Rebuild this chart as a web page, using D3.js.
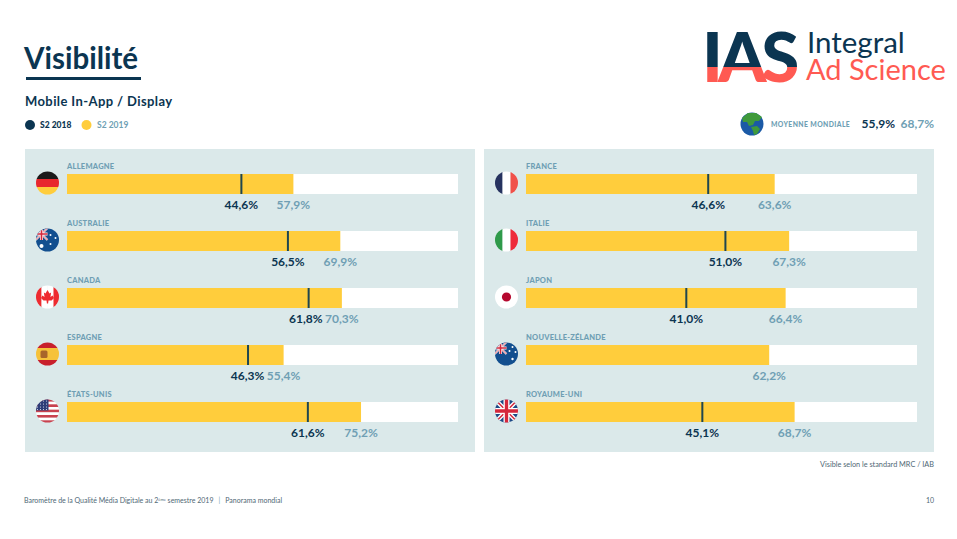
<!DOCTYPE html>
<html lang="fr">
<head>
<meta charset="utf-8">
<title>Visibilité</title>
<script src="https://cdn.jsdelivr.net/npm/d3@7"></script>
<style>
  html, body { margin: 0; padding: 0; background: #fff; }
  svg { display: block; font-family: Lato, "Open Sans", sans-serif; }
</style>
</head>
<body>
<svg id="chart" width="957" height="539"></svg>
<script>
// Values
const leftCountries = ["ALLEMAGNE", "AUSTRALIE", "CANADA", "ESPAGNE", "ÉTATS-UNIS"];
const leftS22018 = [44.6, 56.5, 61.8, 46.3, 61.6];
const leftS22019 = [57.9, 69.9, 70.3, 55.4, 75.2];
const leftFlags = ["de", "au", "ca", "es", "us"];

const rightCountries = ["FRANCE", "ITALIE", "JAPON", "NOUVELLE-ZÉLANDE", "ROYAUME-UNI"];
const rightS22018 = [46.6, 51.0, 41.0, null, 45.1];
const rightS22019 = [63.6, 67.3, 66.4, 62.2, 68.7];
const rightFlags = ["fr", "it", "jp", "nz", "gb"];

const worldAverage = [55.9, 68.7];
const seriesNames = ["S2 2018", "S2 2019"];

const navy = "#0b3551", yellow = "#ffcd3c", panelBg = "#dbe9ea", teal = "#6f9fb4", coral = "#ff5a52";
const fmt = v => v.toFixed(1).replace(".", ",") + "%";

const svg = d3.select("#chart");
const defs = svg.append("defs");

// Title block
svg.append("text").attr("x", 24).attr("y", 69).attr("font-size", 29.5).attr("font-weight", 700)
  .attr("fill", navy).text("Visibilité");
svg.append("rect").attr("x", 26).attr("y", 77).attr("width", 115).attr("height", 3).attr("fill", navy);
svg.append("text").attr("x", 25).attr("y", 106).attr("font-size", 13).attr("font-weight", 700)
  .attr("fill", navy).attr("letter-spacing", 0.4).text("Mobile In-App / Display");

// Legend
svg.append("circle").attr("cx", 30).attr("cy", 125).attr("r", 5).attr("fill", navy);
svg.append("text").attr("x", 40).attr("y", 128).attr("font-size", 8.5).attr("font-weight", 900)
  .attr("fill", navy).text(seriesNames[0]);
svg.append("circle").attr("cx", 86.5).attr("cy", 125).attr("r", 5).attr("fill", yellow);
svg.append("text").attr("x", 97).attr("y", 128).attr("font-size", 8.5).attr("font-weight", 700)
  .attr("fill", teal).text(seriesNames[1]);

// Logo: one text, two colours through a hard-stop gradient
const logoGrad = defs.append("linearGradient").attr("id", "logoSplit")
  .attr("gradientUnits", "userSpaceOnUse").attr("x1", 0).attr("x2", 0).attr("y1", 32).attr("y2", 82);
logoGrad.append("stop").attr("offset", 0.7).attr("stop-color", navy);
logoGrad.append("stop").attr("offset", 0.7).attr("stop-color", coral);
svg.append("text").attr("x", 702).attr("y", 82).attr("font-size", 69).attr("font-weight", 900)
  .attr("letter-spacing", -5).attr("fill", "url(#logoSplit)").text("IAS");
svg.append("text").attr("x", 807).attr("y", 53).attr("font-size", 29.5)
  .attr("fill", navy).text("Integral");
svg.append("text").attr("x", 806).attr("y", 80).attr("font-size", 29)
  .attr("fill", coral).text("Ad Science");

// World average
const globe = svg.append("g").attr("transform", "translate(752,124)");
globe.append("circle").attr("r", 11.5).attr("fill", "#1b5aa6");
globe.append("path").attr("fill", "#3f9a3c")
  .attr("d", "M-10,-6 L-4,-11 L4,-11 L10,-7 L7,-3 L3,-3 L1,1 L-3,2 L-5,-2 L-9,-2 Z M-1,3 L5,2 L8,5 L5,10 L2,11 L1,7 Z");
svg.append("text").attr("x", 771).attr("y", 127).attr("font-size", 6.8).attr("font-weight", 900)
  .attr("letter-spacing", 0.4).attr("fill", teal).text("MOYENNE MONDIALE");
svg.append("text").attr("x", 895).attr("y", 128).attr("text-anchor", "end").attr("font-size", 12)
  .attr("font-weight", 700).attr("fill", navy).text(fmt(worldAverage[0]));
svg.append("text").attr("x", 934).attr("y", 128).attr("text-anchor", "end").attr("font-size", 12)
  .attr("font-weight", 700).attr("fill", teal).text(fmt(worldAverage[1]));

// Small flags, 24 px box centred on the origin
function stripes(g, colors, vertical) {
  const n = colors.length, s = 24 / n;
  colors.forEach((c, i) => {
    g.append("rect")
      .attr("x", vertical ? -12 + i * s : -12).attr("y", vertical ? -12 : -12 + i * s)
      .attr("width", vertical ? s + 0.2 : 24).attr("height", vertical ? 24 : s + 0.2)
      .attr("fill", c);
  });
}
function union(g, size) {
  // size = half width of the jack, centred on the origin of g
  const s = size;
  g.append("rect").attr("x", -s).attr("y", -s).attr("width", 2 * s).attr("height", 2 * s).attr("fill", "#1d4a86");
  g.append("path").attr("d", `M${-s},${-s}L${s},${s}M${s},${-s}L${-s},${s}`).attr("stroke", "#fff").attr("stroke-width", s * 0.34);
  g.append("path").attr("d", `M${-s},${-s}L${s},${s}M${s},${-s}L${-s},${s}`).attr("stroke", "#d5283c").attr("stroke-width", s * 0.13);
  g.append("path").attr("d", `M0,${-s}V${s}M${-s},0H${s}`).attr("stroke", "#fff").attr("stroke-width", s * 0.5);
  g.append("path").attr("d", `M0,${-s}V${s}M${-s},0H${s}`).attr("stroke", "#d5283c").attr("stroke-width", s * 0.28);
}
function southern(g, stars) {
  g.append("rect").attr("x", -12).attr("y", -12).attr("width", 24).attr("height", 24).attr("fill", "#124f8f");
  union(g.append("g").attr("transform", "translate(-6,-6)"), 6);
  stars.forEach(p => g.append("circle").attr("cx", p[0]).attr("cy", p[1]).attr("r", p[2]).attr("fill", "#fff"));
}
const flagDrawers = {
  de: g => stripes(g, ["#1a1a1a", "#e8282e", "#ffcd3c"], false),
  fr: g => stripes(g, ["#26325f", "#ffffff", "#f0514a"], true),
  it: g => stripes(g, ["#2f9a4a", "#ffffff", "#ee2b3a"], true),
  es: g => {
    stripes(g, ["#c8202c", "#f6c23a", "#f6c23a", "#c8202c"], false);
    g.append("rect").attr("x", -7).attr("y", -3.5).attr("width", 7).attr("height", 7.5).attr("rx", 1.5).attr("fill", "#a9662a");
  },
  ca: g => {
    stripes(g, ["#ee2b30", "#ffffff", "#ffffff", "#ee2b30"], true);
    g.append("path").attr("fill", "#ee2b30")
      .attr("d", "M0,-7 L2,-3.5 L3.6,-4.5 L3,0 L5,-1.5 L6.5,1 L4,3.5 L1,3.5 L0.6,6.5 L-0.6,6.5 L-1,3.5 L-4,3.5 L-6.5,1 L-5,-1.5 L-3,0 L-3.6,-4.5 L-2,-3.5 Z");
  },
  jp: g => {
    stripes(g, ["#ffffff"], false);
    g.append("circle").attr("r", 4.6).attr("fill", "#b5082e");
  },
  us: g => {
    stripes(g, ["#c9424f", "#fff", "#c9424f", "#fff", "#c9424f", "#fff", "#c9424f", "#fff", "#c9424f"], false);
    g.append("rect").attr("x", -12).attr("y", -12).attr("width", 13).attr("height", 11.5).attr("fill", "#2e3d78");
    [-10, -7, -4, -1].forEach(x => [-10, -7, -4, -1.5].forEach(y => {
      g.append("circle").attr("cx", x).attr("cy", y).attr("r", 0.6).attr("fill", "#dfe3f0");
    }));
  },
  gb: g => union(g, 12),
  au: g => southern(g, [[-6, 6, 2], [3, 4, 1], [8, -2, 1], [3, -5, 1]]),
  nz: g => southern(g, [[6, -7, 1], [9, -2, 1], [3, -3, 1], [6, 5, 1.2]])
};

defs.append("clipPath").attr("id", "flagClip").append("circle").attr("r", 11.5);

// One panel: background, country rows and value labels
function drawPanel(panelX, countries, s2018, s2019, flags) {
  const panel = svg.append("g");
  panel.append("rect").attr("x", panelX).attr("y", 149).attr("width", 450).attr("height", 303).attr("fill", panelBg);

  const x = d3.scaleLinear().domain([0, 100]).range([panelX + 42, panelX + 433]);
  const y = d3.scalePoint().domain(countries).range([174, 402]);
  const barH = 20;

  const rows = panel.selectAll("g.row").data(countries).enter().append("g").attr("class", "row");

  rows.each(function (c, i) {
    const flag = d3.select(this).append("g")
      .attr("transform", `translate(${panelX + 22.5},${y(c) + 9})`)
      .attr("clip-path", "url(#flagClip)");
    flagDrawers[flags[i]](flag);
  });

  rows.append("text").attr("x", x(0)).attr("y", c => y(c) - 5.5)
    .attr("font-size", 7.5).attr("font-weight", 900).attr("letter-spacing", 0.25)
    .attr("fill", teal).text(c => c);

  rows.append("rect").attr("x", x(0)).attr("y", c => y(c))
    .attr("width", x(100) - x(0)).attr("height", barH).attr("fill", "#fff");

  rows.append("rect").attr("x", x(0)).attr("y", c => y(c))
    .attr("width", (c, i) => x(s2019[i]) - x(0)).attr("height", barH).attr("fill", yellow);

  rows.filter((c, i) => s2018[i] !== null).append("rect")
    .attr("x", c => x(s2018[countries.indexOf(c)]) - 1).attr("y", c => y(c))
    .attr("width", 2).attr("height", barH).attr("fill", "#1f4650");

  // The 2018 label steps aside when it would touch the 2019 one
  const minGap = 36;
  rows.filter((c, i) => s2018[i] !== null).append("text")
    .attr("x", c => {
      const i = countries.indexOf(c);
      return Math.min(x(s2018[i]), x(s2019[i]) - minGap);
    })
    .attr("y", c => y(c) + 34.5).attr("text-anchor", "middle")
    .attr("font-size", 12).attr("font-weight", 700).attr("fill", navy)
    .text(c => fmt(s2018[countries.indexOf(c)]));

  rows.append("text").attr("x", (c, i) => x(s2019[i])).attr("y", c => y(c) + 34.5)
    .attr("text-anchor", "middle").attr("font-size", 12).attr("font-weight", 700)
    .attr("fill", teal).text((c, i) => fmt(s2019[i]));
}

drawPanel(25, leftCountries, leftS22018, leftS22019, leftFlags);
drawPanel(484, rightCountries, rightS22018, rightS22019, rightFlags);

// Notes and footer
svg.append("text").attr("x", 934).attr("y", 467).attr("text-anchor", "end").attr("font-size", 7.3)
  .attr("fill", "#4f6875").text("Visible selon le standard MRC / IAB");
const foot = svg.append("text").attr("x", 24).attr("y", 503).attr("font-size", 7).attr("fill", "#4f6875");
foot.append("tspan").text("Baromètre de la Qualité Média Digitale au 2");
foot.append("tspan").attr("dy", -2.5).attr("font-size", 4).text("ème");
foot.append("tspan").attr("dy", 2.5).text(" semestre 2019");
foot.append("tspan").attr("dx", 5).attr("fill", teal).text("|");
foot.append("tspan").attr("dx", 5).text("Panorama mondial");
svg.append("text").attr("x", 934).attr("y", 503).attr("text-anchor", "end").attr("font-size", 7)
  .attr("fill", "#4f6875").text("10");
</script>
</body>
</html>
